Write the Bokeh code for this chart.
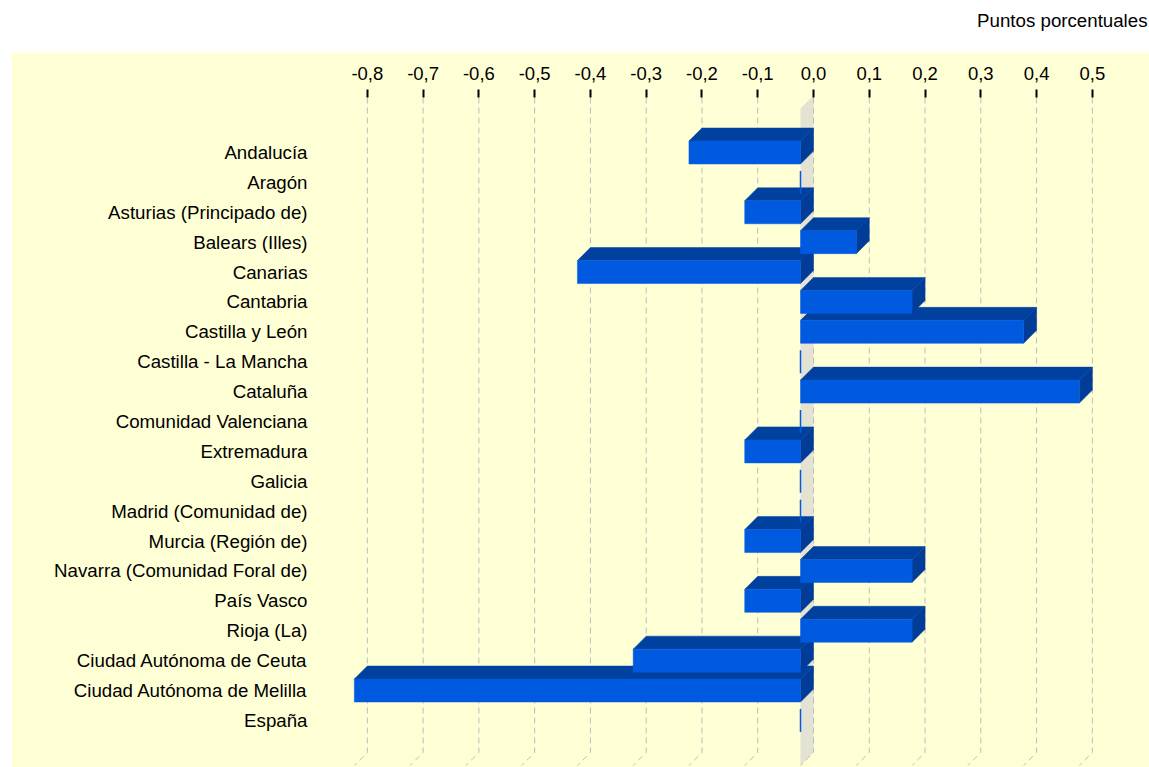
from bokeh.plotting import figure
from bokeh.models import Range1d, FixedTicker, Spacer
from bokeh.layouts import column, row
from bokeh.core.properties import value
from bokeh.embed import file_html
from bokeh.resources import INLINE

# ---------------- data ----------------
regions = [
    "Andalucía", "Aragón", "Asturias (Principado de)", "Balears (Illes)",
    "Canarias", "Cantabria", "Castilla y León", "Castilla - La Mancha",
    "Cataluña", "Comunidad Valenciana", "Extremadura", "Galicia",
    "Madrid (Comunidad de)", "Murcia (Región de)",
    "Navarra (Comunidad Foral de)", "País Vasco", "Rioja (La)",
    "Ciudad Autónoma de Ceuta", "Ciudad Autónoma de Melilla", "España",
]
values = [-0.2, 0.0, -0.1, 0.1, -0.4, 0.2, 0.4, 0.0, 0.5, 0.0,
          -0.1, 0.0, 0.0, -0.1, 0.2, -0.1, 0.2, -0.3, -0.8, 0.0]
tick_values = [-0.8, -0.7, -0.6, -0.5, -0.4, -0.3, -0.2, -0.1,
               0.0, 0.1, 0.2, 0.3, 0.4, 0.5]
tick_labels = ["-0,8", "-0,7", "-0,6", "-0,5", "-0,4", "-0,3", "-0,2", "-0,1",
               "0,0", "0,1", "0,2", "0,3", "0,4", "0,5"]
unit_title = "Puntos porcentuales"

# ---------------- layout / style ----------------
PAGE_W = 1149
PAGE_H = 767
H_TOP = 52
PAD_L = 11
W = PAGE_W - PAD_L
H_MAIN = PAGE_H - H_TOP
FRAME_L = 320            # page x of frame left
LEFT = FRAME_L - PAD_L
TOP = 45
PX_X = 557.7      # pixels per unit of value
PX_Y = 29.89      # pixels per row
FONT = "Liberation Sans"
YELLOW = "#ffffd6"
FRONT = "#005ae0"
TOPC = "#0041a0"
SIDE = "#003c98"
WALL = "#e4e2d3"
GRIDC = "#bdbdbd"

dx = 13 / PX_X          # 3D depth in value units
dy = 13 / PX_Y          # 3D depth in row units
hh = 11.5 / PX_Y        # half bar height

x_start = -(813 - FRAME_L) / PX_X
x_end = x_start + (W - LEFT) / PX_X
y_top = -(152 - 97) / PX_Y
y_bottom = y_top + (H_MAIN - TOP) / PX_Y
grid_bottom = (752 - 152) / PX_Y
wall_top = (108 - 152) / PX_Y

# ---------------- title strip ----------------
pt = figure(width=PAGE_W, height=H_TOP, x_range=Range1d(0, 1), y_range=Range1d(0, 1),
            output_backend="svg", toolbar_location=None,
            min_border=0, outline_line_color=None,
            background_fill_color="white", border_fill_color="white")
pt.axis.visible = False
pt.grid.visible = False
pt.text(x=[1], y=[0.615], text=[unit_title], x_offset=-2,
        text_align="right", text_baseline="middle",
        text_font=value(FONT), text_font_size="18.7px", text_color="#000000")

# ---------------- main chart ----------------
p = figure(width=W, height=H_MAIN,
           x_range=Range1d(x_start, x_end), y_range=Range1d(y_bottom, y_top),
           output_backend="svg", toolbar_location=None,
           x_axis_location="above",
           min_border_left=LEFT, min_border_top=TOP,
           min_border_right=0, min_border_bottom=0,
           background_fill_color=YELLOW, border_fill_color=YELLOW,
           outline_line_color=None)
p.grid.visible = False

xa = p.xaxis[0]
xa.ticker = FixedTicker(ticks=tick_values)
xa.major_label_overrides = dict(zip(tick_values, tick_labels))
xa.major_tick_out = 8
xa.major_tick_in = 0
xa.minor_tick_out = 0
xa.minor_tick_in = 0
xa.axis_line_color = None
xa.major_tick_line_color = "#000000"
xa.major_tick_line_width = 2
xa.major_label_standoff = 10
xa.major_label_text_font = FONT
xa.major_label_text_font_size = "18.5px"
xa.major_label_text_color = "#000000"

ya = p.yaxis[0]
ya.ticker = FixedTicker(ticks=list(range(len(regions))))
ya.major_label_overrides = {i: r for i, r in enumerate(regions)}
ya.major_tick_out = 0
ya.major_tick_in = 0
ya.minor_tick_out = 0
ya.minor_tick_in = 0
ya.axis_line_color = None
ya.major_tick_line_color = None
ya.major_label_standoff = 13
ya.major_label_text_font = FONT
ya.major_label_text_font_size = "18.7px"
ya.major_label_text_color = "#000000"

# zero wall
p.patch(x=[-dx, 0, 0, -dx],
        y=[wall_top, wall_top - dy, grid_bottom, grid_bottom + dy],
        fill_color=WALL, line_color=None)

# grid lines (dashed, with 3D floor foot)
p.multi_line(xs=[[t, t, t - dx] for t in tick_values],
             ys=[[y_top, grid_bottom, grid_bottom + dy] for _ in tick_values],
             line_color=GRIDC, line_dash="6 4", line_width=1)

# 3D bars: drawn bottom row first so upper rows overlap correctly
xs, ys, cols = [], [], []
zx0, zy0, zy1 = [], [], []
for i in range(len(regions) - 1, -1, -1):
    v = values[i]
    if v == 0:
        zx0.append(-dx)
        zy0.append(i - hh)
        zy1.append(i + hh)
        continue
    L = min(v, 0) - dx
    R = max(v, 0) - dx
    t = i - hh
    b = i + hh
    xs.append([L, R, R + dx, L + dx]); ys.append([t, t, t - dy, t - dy]); cols.append(TOPC)
    xs.append([R, R + dx, R + dx, R]); ys.append([t, t - dy, b - dy, b]); cols.append(SIDE)
    xs.append([L, R, R, L]); ys.append([t, t, b, b]); cols.append(FRONT)

p.patches(xs=xs, ys=ys, fill_color=cols, line_color=cols, line_width=0.5)
p.segment(x0=zx0, y0=zy0, x1=zx0, y1=zy1, line_color=FRONT, line_width=1.5)

layout = column(pt, row(Spacer(width=PAD_L, height=H_MAIN), p, spacing=0), spacing=0)
open("out.html", "w").write(file_html(layout, INLINE))
